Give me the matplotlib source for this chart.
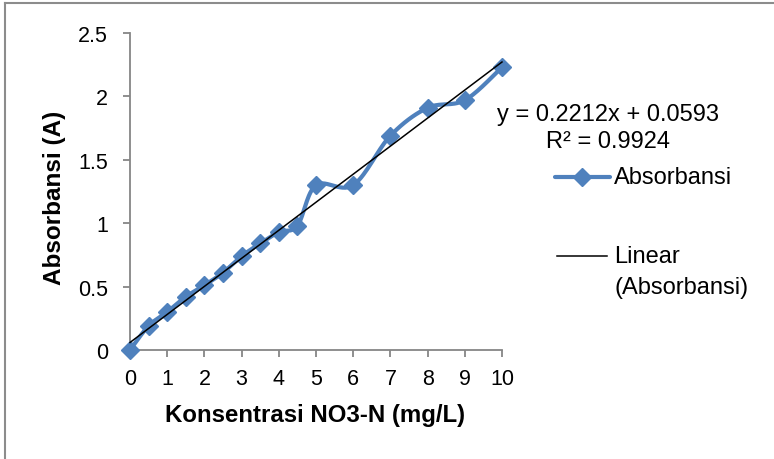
import numpy as np
import matplotlib
matplotlib.use("Agg")
import matplotlib.pyplot as plt
from matplotlib.lines import Line2D

plt.rcParams['font.family'] = ['Liberation Sans', 'DejaVu Sans']

# Calibration data: nitrate concentration vs absorbance
konsentrasi = [0, 0.5, 1, 1.5, 2, 2.5, 3, 3.5, 4, 4.5, 5, 6, 7, 8, 9, 10]
absorbansi = [0.00, 0.19, 0.30, 0.42, 0.51, 0.61, 0.74, 0.84, 0.93, 0.98,
              1.30, 1.30, 1.69, 1.91, 1.97, 2.23]

# Linear trendline reported on the chart
slope = 0.2212
intercept = 0.0593
r_squared = 0.9924

x_ticks = [0, 1, 2, 3, 4, 5, 6, 7, 8, 9, 10]
y_ticks = [0, 0.5, 1, 1.5, 2, 2.5]

BLUE = '#4F81BD'
GRID_GREY = '#868686'
LINE_W = 3.0
MARKER_SIZE = 9.5

W, H = 774, 460
fig = plt.figure(figsize=(W / 100, H / 100), dpi=100)


def px(x, y):
    """Pixel position (from top-left) to figure fraction."""
    return x / W, 1 - y / H


ax_left, ax_top = px(130, 34)
ax_right, ax_bottom = px(502, 351)
ax = fig.add_axes([ax_left, ax_bottom, ax_right - ax_left, ax_top - ax_bottom])


def smooth_curve(xs, ys, n=30):
    """Catmull-Rom style smoothed polyline through the points."""
    xs = np.asarray(xs, float)
    ys = np.asarray(ys, float)
    px_ = np.concatenate([[xs[0]], xs, [xs[-1]]])
    py_ = np.concatenate([[ys[0]], ys, [ys[-1]]])
    out_x, out_y = [], []
    for i in range(1, len(px_) - 2):
        p0 = np.array([px_[i - 1], py_[i - 1]])
        p1 = np.array([px_[i], py_[i]])
        p2 = np.array([px_[i + 1], py_[i + 1]])
        p3 = np.array([px_[i + 2], py_[i + 2]])
        c1 = p1 + (p2 - p0) / 6.0
        c2 = p2 - (p3 - p1) / 6.0
        t = np.linspace(0, 1, n)[:, None]
        seg = ((1 - t) ** 3) * p1 + 3 * ((1 - t) ** 2) * t * c1 \
            + 3 * (1 - t) * t ** 2 * c2 + t ** 3 * p2
        out_x.extend(seg[:, 0])
        out_y.extend(seg[:, 1])
    return np.array(out_x), np.array(out_y)


sx, sy = smooth_curve(konsentrasi, absorbansi)
ax.plot(sx, sy, color=BLUE, lw=LINE_W, solid_capstyle='round', clip_on=False, zorder=2)
ax.plot(konsentrasi, absorbansi, ls='none', marker='D', ms=MARKER_SIZE, color=BLUE,
        mec=BLUE, mew=1.0, clip_on=False, zorder=3)

# Trendline across the data range
tx = np.array([min(konsentrasi), max(konsentrasi)])
ax.plot(tx, slope * tx + intercept, color='black', lw=1.1, clip_on=False, zorder=4)

ax.set_xlim(0, 10)
ax.set_ylim(0, 2.5)
ax.set_xticks(x_ticks)
ax.set_yticks(y_ticks)
ax.set_xticklabels([str(v) for v in x_ticks])
ax.set_yticklabels(['0', '0.5', '1', '1.5', '2', '2.5'])

for side in ('top', 'right'):
    ax.spines[side].set_visible(False)
for side in ('left', 'bottom'):
    ax.spines[side].set_color(GRID_GREY)
    ax.spines[side].set_linewidth(1.3)

ax.tick_params(axis='both', direction='out', length=5, width=1.3,
               color=GRID_GREY, labelsize=15.5, labelcolor='black')
ax.tick_params(axis='y', pad=11)
ax.tick_params(axis='x', pad=8)

ax.set_xlabel('Konsentrasi NO3-N (mg/L)', fontsize=17.3, fontweight='bold',
              va='center', ha='center')
ax.xaxis.set_label_coords(0.497, -0.205)
ax.set_ylabel('Absorbansi (A)', fontsize=17.5, fontweight='bold',
              va='center', ha='center')
ax.yaxis.set_label_coords(-0.202, 0.484)

# Trendline equation and R²
fig.text(*px(608, 115), f'y = {slope}x + {intercept}', fontsize=17,
         ha='center', va='center')
fig.text(*px(608, 142), f'R² = {r_squared}', fontsize=17,
         ha='center', va='center')

# Legend entries
fig.add_artist(Line2D([555 / W, 610 / W], [1 - 178 / H] * 2, color=BLUE, lw=LINE_W,
                      solid_capstyle='round'))
fig.add_artist(Line2D([582 / W], [1 - 178 / H], marker='D', ms=MARKER_SIZE, color=BLUE,
                      mec=BLUE, mew=1.0))
fig.text(*px(614, 178), 'Absorbansi', fontsize=17, ha='left', va='center')

fig.add_artist(Line2D([557 / W, 607 / W], [1 - 257 / H] * 2, color='black', lw=1.1))
fig.text(*px(614, 257), 'Linear', fontsize=17, ha='left', va='center')
fig.text(*px(614, 288), '(Absorbansi)', fontsize=17, ha='left', va='center')

# Outer chart border
fig.add_artist(Line2D([5 / W, 1.0], [1 - 4 / H] * 2, color='#8c8c8c', lw=1.5))
fig.add_artist(Line2D([5 / W] * 2, [1 - 4 / H, 0.0], color='#8c8c8c', lw=1.5))

fig.savefig('out.png', dpi=100)
